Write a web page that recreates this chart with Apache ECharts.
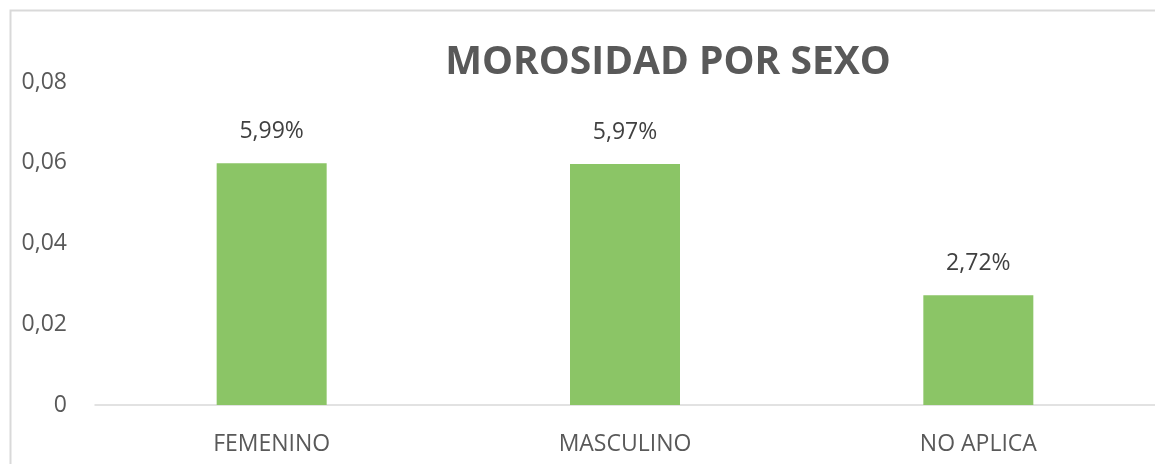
<!DOCTYPE html>
<html>
<head>
<meta charset="utf-8">
<script src="https://cdn.jsdelivr.net/npm/echarts@6/dist/echarts.min.js"></script>
<style>
  html, body { margin: 0; padding: 0; background: #fff; }
  #chart { width: 1155px; height: 464px; }
</style>
</head>
<body>
<div id="chart"></div>
<script>
// datos de la gráfica
const categorias = ['FEMENINO', 'MASCULINO', 'NO APLICA'];
const morosidad = [0.0599, 0.0597, 0.0272];
const ticksY = [0, 0.02, 0.04, 0.06, 0.08];

const gris = '#595959';
const chart = echarts.init(document.getElementById('chart'));

const option = {
  animation: false,
  textStyle: { fontFamily: 'Open Sans' },
  title: {
    text: 'MOROSIDAD POR SEXO',
    left: 663,
    top: 38,
    textAlign: 'center',
    textStyle: { fontFamily: 'Open Sans', fontWeight: 'bold', fontSize: 39, color: gris }
  },
  graphic: [{
    type: 'rect',
    shape: { x: 10.5, y: 10.5, width: 1170, height: 480 },
    style: { fill: 'none', stroke: '#d9d9d9', lineWidth: 2 },
    silent: true
  }],
  grid: { left: 95, top: 82, width: 1065, height: 323 },
  xAxis: {
    type: 'category',
    data: categorias,
    axisLine: { lineStyle: { color: '#d9d9d9', width: 1.5 } },
    axisTick: { show: false },
    axisLabel: { color: gris, fontSize: 23, margin: 28 }
  },
  yAxis: {
    type: 'value',
    min: ticksY[0],
    max: ticksY[ticksY.length - 1],
    interval: 0.02,
    splitLine: { show: false },
    axisLine: { show: false },
    axisTick: { show: false },
    axisLabel: {
      color: gris,
      fontSize: 23,
      margin: 28,
      formatter: v => v === 0 ? '0' : v.toFixed(2).replace('.', ',')
    }
  },
  series: [{
    type: 'bar',
    data: morosidad,
    barWidth: 110,
    itemStyle: { color: '#8bc566' },
    label: {
      show: true,
      position: 'top',
      distance: 20,
      color: '#404040',
      fontSize: 23,
      formatter: p => (p.value * 100).toFixed(2).replace('.', ',') + '%'
    }
  }]
};

chart.setOption(option);
</script>
</body>
</html>
